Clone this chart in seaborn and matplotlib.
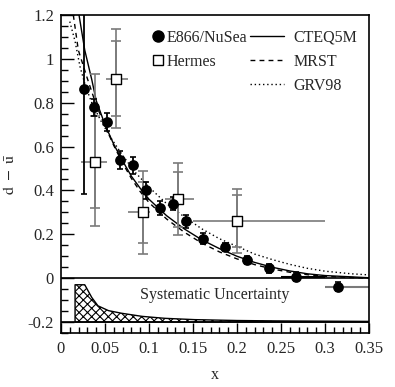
"""
d-bar minus u-bar vs x: E866/NuSea and Hermes data with PDF curves
"""

import numpy as np
import matplotlib
matplotlib.use('Agg')
import matplotlib.pyplot as plt
from matplotlib.ticker import MultipleLocator, FuncFormatter
from matplotlib.lines import Line2D
import seaborn as sns

# E866/NuSea points
e866_x = [0.026, 0.038, 0.052, 0.067, 0.082, 0.097, 0.112, 0.127, 0.142, 0.161, 0.186, 0.211, 0.236, 0.267, 0.315]
e866_y = [0.864, 0.779, 0.711, 0.538, 0.514, 0.400, 0.320, 0.340, 0.260, 0.180, 0.142, 0.083, 0.045, 0.006, -0.038]
e866_err = [0.48, 0.04, 0.04, 0.04, 0.04, 0.04, 0.03, 0.03, 0.03, 0.025, 0.02, 0.02, 0.02, 0.02, 0.022]

# Hermes points (stat and total errors, x bins)
herm_x = [0.039, 0.063, 0.093, 0.133, 0.200]
herm_y = [0.53, 0.91, 0.30, 0.36, 0.26]
herm_stat = [0.21, 0.17, 0.14, 0.125, 0.12]
herm_tot_lo = [0.29, 0.225, 0.19, 0.165, 0.145]
herm_tot_hi = [0.40, 0.225, 0.19, 0.165, 0.145]
herm_bin_lo = [0.023, 0.051, 0.076, 0.118, 0.150]
herm_bin_hi = [0.052, 0.076, 0.101, 0.151, 0.300]

# PDF curves
cteq_x = [0.0205, 0.027, 0.035, 0.04, 0.05, 0.06, 0.07, 0.08, 0.09, 0.10, 0.12, 0.14, 0.16, 0.18,
          0.20, 0.22, 0.24, 0.26, 0.28, 0.30, 0.35]
cteq_y = [1.2, 1.04, 0.905, 0.81, 0.70, 0.61, 0.535, 0.465, 0.41, 0.36, 0.285, 0.225, 0.175, 0.135,
          0.10, 0.072, 0.05, 0.033, 0.02, 0.012, 0.002]
mrst_x = [0.014, 0.0197, 0.030, 0.04, 0.05, 0.06, 0.07, 0.08, 0.09, 0.10, 0.12, 0.14, 0.16, 0.18,
          0.20, 0.22, 0.24, 0.26, 0.28, 0.30, 0.35]
mrst_y = [1.2, 1.04, 0.91, 0.79, 0.695, 0.605, 0.525, 0.455, 0.395, 0.345, 0.27, 0.21, 0.16, 0.12,
          0.088, 0.062, 0.042, 0.027, 0.016, 0.008, 0.0]
grv_x = [0.010, 0.016, 0.0216, 0.028, 0.035, 0.045, 0.055, 0.07, 0.085, 0.10, 0.12, 0.14, 0.16, 0.18,
         0.20, 0.22, 0.24, 0.26, 0.28, 0.30, 0.33, 0.35]
grv_y = [1.17, 1.08, 0.965, 0.874, 0.80, 0.72, 0.65, 0.56, 0.48, 0.415, 0.34, 0.28, 0.225, 0.18,
         0.145, 0.11, 0.085, 0.063, 0.045, 0.032, 0.02, 0.015]

# systematic uncertainty band (top edge, baseline at -0.2)
sys_x = [0.016, 0.016, 0.027, 0.035, 0.042, 0.054, 0.069, 0.092, 0.118, 0.152, 0.20, 0.25, 0.30, 0.35]
sys_top = [-0.2, -0.03, -0.03, -0.088, -0.126, -0.148, -0.16, -0.174, -0.183, -0.189, -0.193,
           -0.195, -0.196, -0.197]

DASH = (0, (3.5, 3.0))
DOT = (0, (1.0, 2.0))


def make_plot():
    sns.set_style("ticks")
    plt.rcParams['font.family'] = ['Liberation Serif', 'DejaVu Serif']
    plt.rcParams['mathtext.fontset'] = 'stix'
    plt.rcParams['hatch.linewidth'] = 0.8

    fig = plt.figure(figsize=(3.95, 3.87), dpi=100)
    ax = fig.add_axes([0.1544, 0.1395, 0.7797, 0.8217])

    # systematic band
    ax.fill_between(sys_x, -0.2, sys_top, facecolor='white', edgecolor='black',
                    hatch='xxxx', linewidth=1.0)
    ax.axhline(-0.2, color='black', lw=1.2)
    ax.axhline(0, color='black', lw=1.2)
    ax.text(0.175, -0.077, 'Systematic Uncertainty', ha='center', va='center', fontsize=11.5)

    # curves
    sns.lineplot(x=cteq_x, y=cteq_y, ax=ax, color='black', lw=1.0, linestyle='-')
    sns.lineplot(x=mrst_x, y=mrst_y, ax=ax, color='black', lw=1.0, linestyle=DASH)
    sns.lineplot(x=grv_x, y=grv_y, ax=ax, color='black', lw=1.0, linestyle=DOT)

    # Hermes
    herm_xerr = [np.array(herm_x) - np.array(herm_bin_lo), np.array(herm_bin_hi) - np.array(herm_x)]
    ax.errorbar(herm_x, herm_y, xerr=herm_xerr, fmt='none', ecolor='#7a7a7a', elinewidth=1.2, capsize=0)
    ax.errorbar(herm_x, herm_y, yerr=[herm_tot_lo, herm_tot_hi], fmt='none', ecolor='#7a7a7a',
                elinewidth=1.2, capsize=3.5, capthick=1.2)
    ax.errorbar(herm_x, herm_y, yerr=herm_stat, fmt='none', ecolor='#7a7a7a',
                elinewidth=1.2, capsize=3.5, capthick=1.2)
    sns.scatterplot(x=herm_x, y=herm_y, ax=ax, marker='s', s=48, facecolor='white',
                    edgecolor='black', linewidth=1.0, zorder=5)

    # E866
    ax.errorbar(e866_x, e866_y, yerr=e866_err, fmt='none', ecolor='black', elinewidth=1.3,
                capsize=2.5, capthick=1.2)
    ax.errorbar([0.267, 0.315], [0.006, -0.038], xerr=[[0.017, 0.015], [0.033, 0.035]], fmt='none',
                ecolor=['black', '#7a7a7a'], elinewidth=1.5, capsize=0)
    sns.scatterplot(x=e866_x, y=e866_y, ax=ax, marker='o', s=60, color='black',
                    edgecolor='black', linewidth=0, zorder=6)

    ax.set_xlim(0, 0.35)
    ax.set_ylim(-0.25, 1.2)
    ax.xaxis.set_major_locator(MultipleLocator(0.05))
    ax.xaxis.set_minor_locator(MultipleLocator(0.01))
    ax.yaxis.set_major_locator(MultipleLocator(0.2))
    ax.yaxis.set_minor_locator(MultipleLocator(0.05))
    fmt = FuncFormatter(lambda v, p: '%g' % round(v, 3))
    ax.xaxis.set_major_formatter(fmt)
    ax.yaxis.set_major_formatter(fmt)
    ax.tick_params(which='both', direction='in', top=False, right=False, labelsize=12,
                   color='black', width=1.0)
    ax.tick_params(axis='y', which='major', length=9.5, pad=5)
    ax.tick_params(axis='y', which='minor', length=5)
    ax.tick_params(axis='x', which='major', length=7, pad=6)
    ax.tick_params(axis='x', which='minor', length=4.5)
    for sp in ax.spines.values():
        sp.set_visible(True)
        sp.set_color('black')
        sp.set_linewidth(1.2)

    ax.set_xlabel('x', fontsize=11.5, labelpad=7)
    ax.set_ylabel(r'$\bar{\mathrm{d}}\ -\ \bar{\mathrm{u}}$', fontsize=11.5, labelpad=6)

    # legends
    h1 = [Line2D([], [], marker='o', ls='none', color='black', markersize=8),
          Line2D([], [], marker='s', ls='none', markerfacecolor='white', markeredgecolor='black',
                 markersize=7)]
    leg1 = ax.legend(h1, ['E866/NuSea', 'Hermes'], loc='upper left', bbox_to_anchor=(0.295, 0.954),
                     frameon=False, fontsize=11.5, handlelength=0.8, handletextpad=0.1,
                     labelspacing=0.5, borderpad=0, borderaxespad=0)
    ax.add_artist(leg1)
    h2 = [Line2D([], [], color='black', lw=1.0, ls='-'),
          Line2D([], [], color='black', lw=1.0, ls=DASH),
          Line2D([], [], color='black', lw=1.0, ls=DOT)]
    ax.legend(h2, ['CTEQ5M', 'MRST', 'GRV98'], loc='upper left', bbox_to_anchor=(0.615, 0.954),
              frameon=False, fontsize=11.5, handlelength=2.1, handletextpad=0.6,
              labelspacing=0.5, borderpad=0, borderaxespad=0)

    plt.savefig('out.png', dpi=100)
    plt.close()


if __name__ == "__main__":
    make_plot()
